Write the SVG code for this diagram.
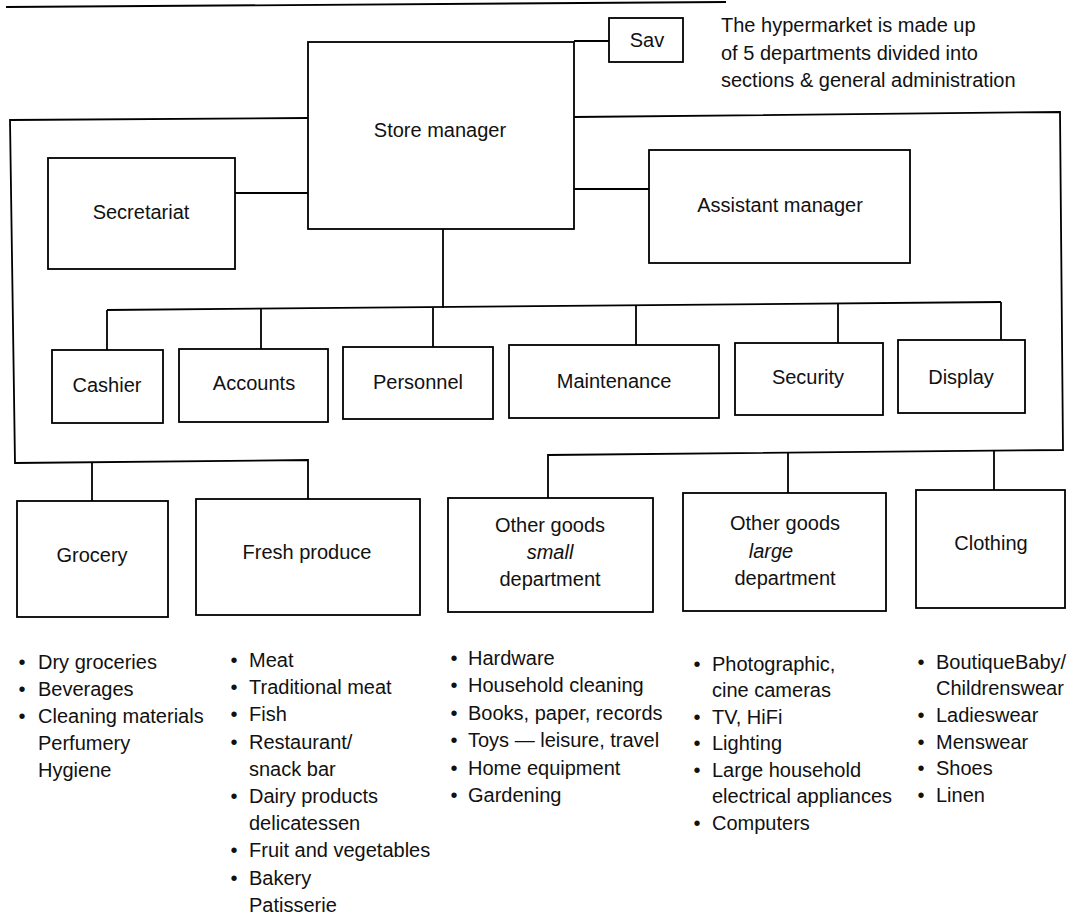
<svg xmlns="http://www.w3.org/2000/svg" width="1073" height="919" viewBox="0 0 1073 919">
<style>
.box{fill:none;stroke:#000;stroke-width:1.8}
.ln{fill:none;stroke:#000;stroke-width:1.8}
text{font-family:"Liberation Sans",Arial,sans-serif;font-size:20px;fill:#111}
.c{text-anchor:middle}
.i{font-style:italic}
</style>
<rect width="1073" height="919" fill="#fff"/>
<line class="ln" x1="6" y1="7" x2="726" y2="2" stroke-width="2.2"/>
<g id="connectors">
<polyline class="ln" points="308,118 10,120 15,463 308,460 308,499"/>
<line class="ln" x1="92" y1="462" x2="92" y2="501"/>
<polyline class="ln" points="574,117 1060,112 1063,450 548,455 548,498"/>
<line class="ln" x1="788" y1="453" x2="788" y2="493"/>
<line class="ln" x1="994" y1="451" x2="994" y2="490"/>
<line class="ln" x1="235" y1="193" x2="308" y2="193"/>
<line class="ln" x1="574" y1="189" x2="649" y2="189"/>
<line class="ln" x1="574" y1="41" x2="609" y2="41"/>
<line class="ln" x1="443" y1="229" x2="443" y2="308"/>
<line class="ln" x1="107" y1="310" x2="1001" y2="302"/>
<line class="ln" x1="107" y1="310" x2="107" y2="350"/>
<line class="ln" x1="261" y1="309" x2="261" y2="349"/>
<line class="ln" x1="433" y1="308" x2="433" y2="347"/>
<line class="ln" x1="636" y1="306" x2="636" y2="345"/>
<line class="ln" x1="838" y1="304" x2="838" y2="343"/>
<line class="ln" x1="1001" y1="302" x2="1001" y2="340"/>
</g>
<g id="note">
<text x="721" y="32">The hypermarket is made up</text>
<text x="721" y="60">of 5 departments divided into</text>
<text x="721" y="87">sections &amp; general administration</text>
</g>
<g id="sav"><rect class="box" x="609" y="18" width="74" height="44"/><text class="c" x="647" y="47">Sav</text></g>
<g id="store-manager"><rect class="box" x="308" y="42" width="266" height="187"/><text class="c" x="440" y="137">Store manager</text></g>
<g id="secretariat"><rect class="box" x="48" y="158" width="187" height="111"/><text class="c" x="141" y="219">Secretariat</text></g>
<g id="assistant-manager"><rect class="box" x="649" y="150" width="261" height="113"/><text class="c" x="780" y="212">Assistant manager</text></g>
<g id="cashier"><rect class="box" x="52" y="350" width="111" height="73"/><text class="c" x="107" y="392">Cashier</text></g>
<g id="accounts"><rect class="box" x="179" y="349" width="149" height="73"/><text class="c" x="254" y="390">Accounts</text></g>
<g id="personnel"><rect class="box" x="343" y="347" width="150" height="72"/><text class="c" x="418" y="389">Personnel</text></g>
<g id="maintenance"><rect class="box" x="509" y="345" width="210" height="73"/><text class="c" x="614" y="388">Maintenance</text></g>
<g id="security"><rect class="box" x="735" y="343" width="148" height="72"/><text class="c" x="808" y="384">Security</text></g>
<g id="display"><rect class="box" x="898" y="340" width="127" height="73"/><text class="c" x="961" y="384">Display</text></g>
<g id="grocery"><rect class="box" x="17" y="501" width="151" height="116"/><text class="c" x="92" y="562">Grocery</text></g>
<g id="fresh-produce"><rect class="box" x="196" y="499" width="224" height="116"/><text class="c" x="307" y="559">Fresh produce</text></g>
<g id="other-small"><rect class="box" x="448" y="498" width="205" height="114"/>
<text class="c" x="550" y="532">Other goods</text>
<text class="c i" x="550" y="559">small</text>
<text class="c" x="550" y="586">department</text></g>
<g id="other-large"><rect class="box" x="683" y="493" width="203" height="118"/>
<text class="c" x="785" y="530">Other goods</text>
<text class="c i" x="771" y="558">large</text>
<text class="c" x="785" y="585">department</text></g>
<g id="clothing"><rect class="box" x="916" y="490" width="149" height="118"/><text class="c" x="991" y="550">Clothing</text></g>
<g id="list-grocery">
<text class="c" x="22" y="669">•</text><text x="38" y="669">Dry groceries</text>
<text class="c" x="22" y="696">•</text><text x="38" y="696">Beverages</text>
<text class="c" x="22" y="723">•</text><text x="38" y="723">Cleaning materials</text>
<text x="38" y="750">Perfumery</text>
<text x="38" y="777">Hygiene</text>
</g>
<g id="list-fresh">
<text class="c" x="234" y="667">•</text><text x="249" y="667">Meat</text>
<text class="c" x="234" y="694">•</text><text x="249" y="694">Traditional meat</text>
<text class="c" x="234" y="721">•</text><text x="249" y="721">Fish</text>
<text class="c" x="234" y="749">•</text><text x="249" y="749">Restaurant/</text>
<text x="249" y="776">snack bar</text>
<text class="c" x="234" y="803">•</text><text x="249" y="803">Dairy products</text>
<text x="249" y="830">delicatessen</text>
<text class="c" x="234" y="857">•</text><text x="249" y="857">Fruit and vegetables</text>
<text class="c" x="234" y="885">•</text><text x="249" y="885">Bakery</text>
<text x="249" y="912">Patisserie</text>
</g>
<g id="list-small">
<text class="c" x="454" y="665">•</text><text x="468" y="665">Hardware</text>
<text class="c" x="454" y="692">•</text><text x="468" y="692">Household cleaning</text>
<text class="c" x="454" y="720">•</text><text x="468" y="720">Books, paper, records</text>
<text class="c" x="454" y="747">•</text><text x="468" y="747">Toys — leisure, travel</text>
<text class="c" x="454" y="775">•</text><text x="468" y="775">Home equipment</text>
<text class="c" x="454" y="802">•</text><text x="468" y="802">Gardening</text>
</g>
<g id="list-large">
<text class="c" x="697" y="671">•</text><text x="712" y="671">Photographic,</text>
<text x="712" y="697">cine cameras</text>
<text class="c" x="697" y="724">•</text><text x="712" y="724">TV, HiFi</text>
<text class="c" x="697" y="750">•</text><text x="712" y="750">Lighting</text>
<text class="c" x="697" y="777">•</text><text x="712" y="777">Large household</text>
<text x="712" y="803">electrical appliances</text>
<text class="c" x="697" y="830">•</text><text x="712" y="830">Computers</text>
</g>
<g id="list-clothing">
<text class="c" x="921" y="669">•</text><text x="936" y="669">BoutiqueBaby/</text>
<text x="936" y="695">Childrenswear</text>
<text class="c" x="921" y="722">•</text><text x="936" y="722">Ladieswear</text>
<text class="c" x="921" y="749">•</text><text x="936" y="749">Menswear</text>
<text class="c" x="921" y="775">•</text><text x="936" y="775">Shoes</text>
<text class="c" x="921" y="802">•</text><text x="936" y="802">Linen</text>
</g>
</svg>
